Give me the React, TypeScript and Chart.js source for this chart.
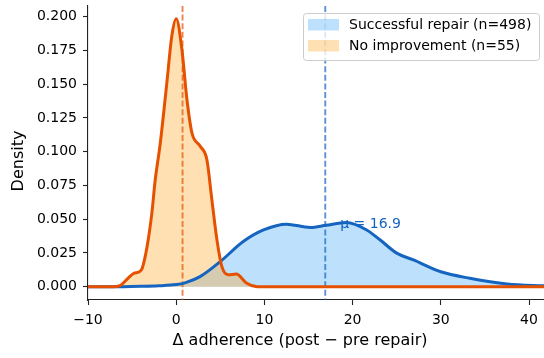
import React, { useEffect, useRef } from "react";
import { Chart, registerables } from "chart.js";

Chart.register(...registerables);

// No improvement (n=55) KDE
const noImpX = [-10, -7, -6.3, -5.5, -4.8, -4.2, -3.85, -3.3, -2.76, -2.38, -1.81, -1.06, -0.49, 0, 0.64, 1.21, 1.78, 2.72, 3.48, 4.05, 4.61, 5.18, 5.9, 6.8, 8.0, 9.2, 42];
const noImpY = [0, 0, 0.001, 0.006, 0.0099, 0.011, 0.0137, 0.0297, 0.0545, 0.079, 0.106, 0.151, 0.186, 0.1985, 0.176, 0.139, 0.114, 0.104, 0.094, 0.064, 0.035, 0.0148, 0.0088, 0.0093, 0.0025, 0, 0];

// Successful repair (n=498) KDE
const successX = [-10, -6, -4, -2, 0, 1, 2.7, 5, 7.6, 9.9, 12.5, 15.2, 17, 19.3, 21.6, 23.1, 25, 26.9, 30, 33.3, 37.5, 42];
const successY = [0, 0, 0.0002, 0.0006, 0.0015, 0.0028, 0.0074, 0.0186, 0.0334, 0.042, 0.0463, 0.0438, 0.0455, 0.0475, 0.042, 0.0347, 0.0248, 0.0198, 0.011, 0.0062, 0.002, 0.0005];

const seriesLabels = ["Successful repair (n=498)", "No improvement (n=55)"];
const means = [16.9, 0.72];
const meanLabel = "μ = 16.9";
const xTicks = [-10, 0, 10, 20, 30, 40];
const yTicks = [0, 0.025, 0.05, 0.075, 0.1, 0.125, 0.15, 0.175, 0.2];

const BLUE = "#1565C0";
const ORANGE = "#E65100";
const BLUE_FILL = "rgba(66,165,245,0.35)";
const ORANGE_FILL = "rgba(255,167,38,0.35)";
const FONT = "'DejaVu Sans', sans-serif";

export default function App() {
  const ref = useRef<HTMLCanvasElement>(null);
  useEffect(() => {
    const canvas = ref.current!;
    const noImpPts = noImpX.map((x, i) => ({ x, y: noImpY[i] }));
    const successPts = successX.map((x, i) => ({ x, y: successY[i] }));
    const overlay = {
      id: "overlay",
      afterDatasetDraw(chart: any, args: any) {
        // after the orange fill (index 1), before the curves
        if (args.index !== 1) return;
        const { ctx, chartArea, scales } = chart;
        ctx.save();
        const cols = ["rgba(21,101,192,0.7)", "rgba(230,81,0,0.7)"];
        means.forEach((m, i) => {
          const px = scales.x.getPixelForValue(m);
          ctx.strokeStyle = cols[i];
          ctx.lineWidth = 1.9;
          ctx.setLineDash([6, 2.6]);
          ctx.beginPath();
          ctx.moveTo(px, chartArea.top);
          ctx.lineTo(px, chartArea.bottom);
          ctx.stroke();
        });
        ctx.setLineDash([]);
        ctx.fillStyle = BLUE;
        ctx.font = `14px ${FONT}`;
        ctx.textAlign = "left";
        ctx.textBaseline = "middle";
        ctx.fillText(meanLabel, scales.x.getPixelForValue(18.6), scales.y.getPixelForValue(0.0462));
        ctx.restore();
      },
      afterDraw(chart: any) {
        const { ctx } = chart;
        ctx.save();
        // axis titles
        ctx.fillStyle = "#000";
        ctx.font = `16px ${FONT}`;
        ctx.textAlign = "center";
        ctx.textBaseline = "middle";
        ctx.fillText("Δ adherence (post − pre repair)", 300, 341);
        ctx.save();
        ctx.translate(19, 161);
        ctx.rotate(-Math.PI / 2);
        ctx.fillText("Density", 0, 0);
        ctx.restore();
        // legend
        const bx = 303.5, by = 13.5, bw = 236, bh = 47, r = 3;
        ctx.beginPath();
        ctx.moveTo(bx + r, by);
        ctx.arcTo(bx + bw, by, bx + bw, by + bh, r);
        ctx.arcTo(bx + bw, by + bh, bx, by + bh, r);
        ctx.arcTo(bx, by + bh, bx, by, r);
        ctx.arcTo(bx, by, bx + bw, by, r);
        ctx.closePath();
        ctx.fillStyle = "rgba(255,255,255,0.8)";
        ctx.fill();
        ctx.strokeStyle = "#cccccc";
        ctx.lineWidth = 1;
        ctx.stroke();
        const fills = [BLUE_FILL, ORANGE_FILL];
        seriesLabels.forEach((lab, i) => {
          const y = 19 + i * 21;
          ctx.fillStyle = fills[i];
          ctx.fillRect(308, y, 31, 11.5);
          ctx.fillStyle = "#000";
          ctx.font = `14px ${FONT}`;
          ctx.textAlign = "left";
          ctx.textBaseline = "middle";
          ctx.fillText(lab, 349, y + 6);
        });
        ctx.restore();
      },
    };
    const common = { pointRadius: 0, cubicInterpolationMode: "monotone" };
    const chart = new Chart(canvas, {
      type: "line",
      data: {
        datasets: [
          // fills (drawn first)
          { ...common, label: seriesLabels[0] + " fill", data: successPts, borderWidth: 0, borderColor: "rgba(0,0,0,0)", backgroundColor: BLUE_FILL, fill: "origin", order: 4 },
          { ...common, label: seriesLabels[1] + " fill", data: noImpPts, borderWidth: 0, borderColor: "rgba(0,0,0,0)", backgroundColor: ORANGE_FILL, fill: "origin", order: 3 },
          // curves (on top)
          { ...common, label: seriesLabels[0], data: successPts, borderWidth: 3, borderColor: BLUE, fill: false, order: 2 },
          { ...common, label: seriesLabels[1], data: noImpPts, borderWidth: 3, borderColor: ORANGE, fill: false, order: 1 },
        ],
      },
      options: {
        animation: false,
        responsive: false,
        layout: { padding: { top: 6, right: 0, left: 0, bottom: 0 } },
        plugins: { legend: { display: false }, tooltip: { enabled: false } },
        scales: {
          x: {
            type: "linear",
            min: -10,
            max: 41.7,
            afterBuildTicks: (s: any) => {
              s.ticks = xTicks.map((v) => ({ value: v }));
            },
            afterFit: (s: any) => {
              s.height = 58;
              s.paddingRight = 0;
            },
            grid: { drawOnChartArea: false, tickLength: 5, color: "#222", tickWidth: 1.1 },
            border: { color: "#222", width: 1.1 },
            ticks: {
              font: { family: FONT, size: 14 },
              color: "#000",
              padding: 7,
              maxRotation: 0,
              callback: (v: any) => (v < 0 ? "−" + Math.abs(v) : String(v)),
            },
          },
          y: {
            type: "linear",
            min: -0.0099,
            max: 0.2079,
            afterBuildTicks: (s: any) => {
              s.ticks = yTicks.map((v) => ({ value: v }));
            },
            afterFit: (s: any) => {
              s.width = 88;
              s.paddingTop = 0;
              s.paddingBottom = 0;
            },
            grid: { drawOnChartArea: false, tickLength: 5, color: "#222", tickWidth: 1.1 },
            border: { color: "#222", width: 1.1 },
            ticks: {
              font: { family: FONT, size: 14 },
              color: "#000",
              padding: 6,
              callback: (v: any) => Number(v).toFixed(3),
            },
          },
        },
      },
      plugins: [overlay],
    } as any);
    return () => chart.destroy();
  }, []);
  return (
    <div style={{ position: "fixed", left: 0, top: 0, width: 544, height: 358, background: "#fff" }}>
      <canvas ref={ref} width={544} height={358} style={{ display: "block" }} />
    </div>
  );
}
